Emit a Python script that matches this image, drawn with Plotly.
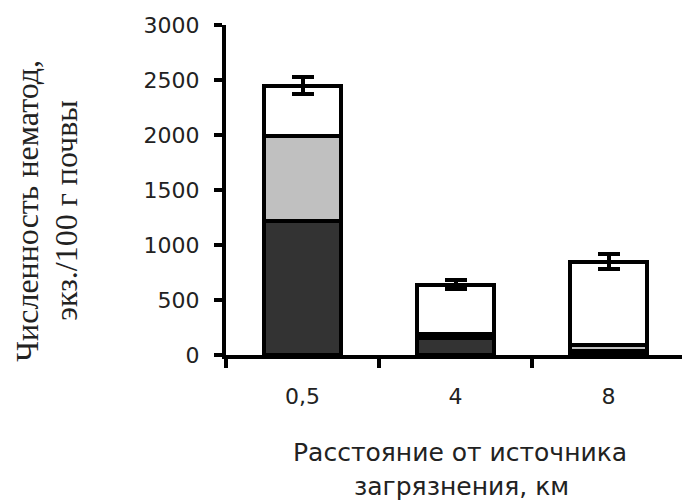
import plotly.graph_objects as go

categories = ["0,5", "4", "8"]
dark_vals = [1220, 155, 35]
gray_vals = [775, 35, 60]
white_vals = [455, 450, 755]
total_err = [80, 40, 70]
y_ticks = [0, 500, 1000, 1500, 2000, 2500, 3000]

W, H = 682, 502
L, R, T, B = 226, 0, 25, 146.5
pw, ph = W - L - R, H - T - B

def px(x):
    return (x - L) / pw

def py(y):
    return (H - B - y) / ph

line = dict(color="black", width=4)
fig = go.Figure()
fig.add_trace(go.Bar(x=categories, y=dark_vals, marker=dict(color="#333333", line=line), width=0.5))
fig.add_trace(go.Bar(x=categories, y=gray_vals, marker=dict(color="#c0c0c0", line=line), width=0.5))
fig.add_trace(go.Bar(x=categories, y=white_vals, marker=dict(color="white", line=line), width=0.5,
                     error_y=dict(type="data", array=total_err, color="black", thickness=4, width=11)))

tickfont = dict(family="DejaVu Sans", size=22, color="#222222")
fig.update_layout(
    width=W, height=H, barmode="stack", showlegend=False,
    plot_bgcolor="white", paper_bgcolor="white",
    margin=dict(l=L, r=R, t=T, b=B, pad=0),
    xaxis=dict(type="category", range=[-0.5, 2.48], showline=True, linecolor="black", linewidth=4,
               ticks="outside", tickson="boundaries", ticklen=9, tickwidth=4, tickcolor="black",
               tickfont=tickfont, showgrid=False, zeroline=False, ticklabelstandoff=19),
    yaxis=dict(range=[0, 3000], tickvals=y_ticks, showline=True, linecolor="black", linewidth=4,
               ticks="outside", ticklen=8, tickwidth=4, tickcolor="black",
               tickfont=tickfont, showgrid=False, zeroline=False, ticklabelstandoff=10),
    annotations=[
        dict(text="Численность нематод,", xref="paper", yref="paper", x=px(27), y=py(211),
             xanchor="center", yanchor="middle", textangle=-90, showarrow=False,
             font=dict(family="Liberation Serif", size=32, color="#222222")),
        dict(text="экз./100 г почвы", xref="paper", yref="paper", x=px(66), y=py(211),
             xanchor="center", yanchor="middle", textangle=-90, showarrow=False,
             font=dict(family="Liberation Serif", size=32, color="#222222")),
        dict(text="Расстояние от источника", xref="paper", yref="paper", x=px(460), y=py(453),
             xanchor="center", yanchor="middle", showarrow=False,
             font=dict(family="DejaVu Sans", size=25, color="#222222")),
        dict(text="загрязнения, км", xref="paper", yref="paper", x=px(461), y=py(487),
             xanchor="center", yanchor="middle", showarrow=False,
             font=dict(family="DejaVu Sans", size=25, color="#222222")),
    ],
)
fig.write_html("out.html")
